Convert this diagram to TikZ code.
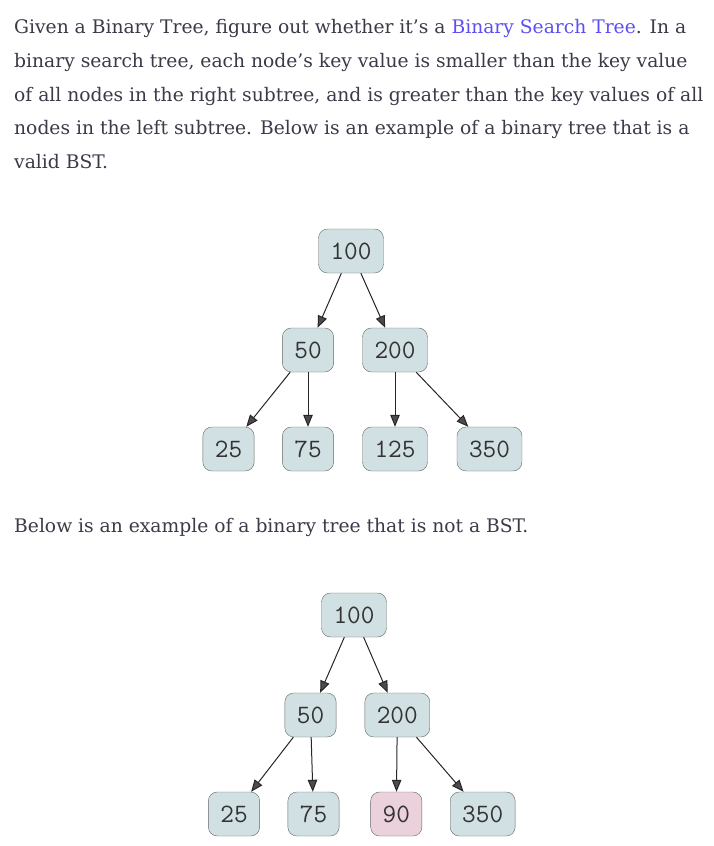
\documentclass[tikz,border=0pt]{standalone}
\usepackage{fontspec}
\setmainfont{DejaVu Serif}
\newfontfamily\keyfont{Latin Modern Mono}
\usetikzlibrary{arrows.meta}

\definecolor{bodytext}{RGB}{58,58,72}
\definecolor{linkblue}{RGB}{92,78,245}
\definecolor{keyfill}{RGB}{208,224,227}
\definecolor{badfill}{RGB}{234,209,220}
\definecolor{keyline}{RGB}{100,100,100}

\tikzset{
  para/.style={anchor=base west, inner sep=0pt, text=bodytext,
    font=\fontsize{18.7}{22}\selectfont},
  key/.style={draw=keyline, fill=keyfill, rounded corners=9pt,
    inner xsep=12pt, inner ysep=0pt, minimum height=44pt,
    font=\keyfont\fontsize{26.5}{26.5}\selectfont, text=black!80},
  bad/.style={key, fill=badfill},
  edge/.style={line width=1pt, black!85,
    -{Triangle[length=12pt, width=9.5pt, fill=black!70]}}
}

\begin{document}
\begin{tikzpicture}[x=1pt, y=-1pt]
  % page frame
  \useasboundingbox (0,0) rectangle (713,846);

  % paragraph above the first tree
  \node[para] (line1) at (14,33) {Given a Binary Tree, figure out whether it's a
    \textcolor{linkblue}{Binary Search Tree}. In a};
  \node[para] (line2) at (14,67) {binary search tree, each node's key value is
    smaller than the key value};
  \node[para] (line3) at (14,101) {of all nodes in the right subtree, and is
    greater than the key values of all};
  \node[para] (line4) at (14,134) {nodes in the left subtree. Below is an example
    of a binary tree that is a};
  \node[para] (line5) at (14,168) {valid BST.};

  % first tree: a valid BST
  \node[key] (a100) at (351,251) {100};
  \node[key] (a50)  at (308,350) {50};
  \node[key] (a200) at (395,350) {200};
  \node[key] (a25)  at (228.5,449) {25};
  \node[key] (a75)  at (308,449) {75};
  \node[key] (a125) at (395,449) {125};
  \node[key] (a350) at (489.5,449) {350};

  \foreach \p/\c in {a100/a50, a100/a200, a50/a25, a50/a75,
                     a200/a125, a200/a350} {
    \draw[edge] (\p) -- (\c);
  }

  % sentence between the trees
  \node[para] (below) at (14,532) {Below is an example of a binary tree that is
    not a BST.};

  % second tree: 90 breaks the rule
  \node[key] (b100) at (354,615) {100};
  \node[key] (b50)  at (310.5,715) {50};
  \node[key] (b200) at (397.3,715) {200};
  \node[key] (b25)  at (234,814) {25};
  \node[key] (b75)  at (313.5,814) {75};
  \node[bad] (b90)  at (396.3,814) {90};
  \node[key] (b350) at (482.7,814) {350};

  \foreach \p/\c in {b100/b50, b100/b200, b50/b25, b50/b75,
                     b200/b90, b200/b350} {
    \draw[edge] (\p) -- (\c);
  }

\end{tikzpicture}
\end{document}
